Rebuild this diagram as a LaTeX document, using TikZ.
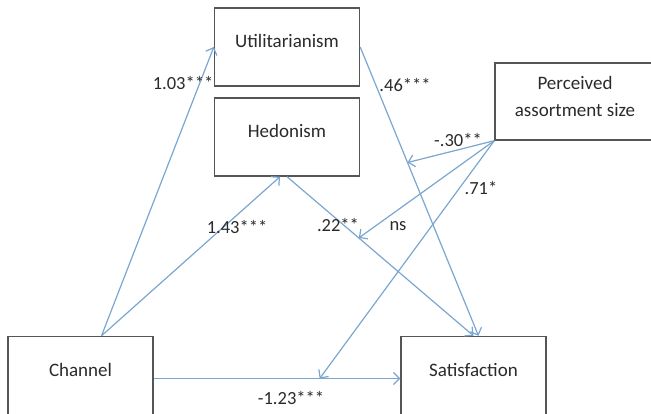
\documentclass[tikz,border=0pt]{standalone}
\usepackage{fontspec}
\setmainfont{Carlito}
\usetikzlibrary{positioning, arrows.meta}

\definecolor{pathblue}{HTML}{7AA6D0}
\definecolor{boxgray}{HTML}{555555}
\definecolor{txtgray}{HTML}{2A2A2A}

\begin{document}
\begin{tikzpicture}[x=1pt, y=-1pt,
    box/.style={draw=boxgray, line width=1.4pt, rectangle, minimum width=145pt, minimum height=78pt, text=txtgray, font=\fontsize{19}{22}\selectfont, text height=10pt, text depth=8pt},
    coef/.style={text=txtgray, font=\fontsize{18.5}{22}\selectfont, inner sep=0pt},
    effect/.style={draw=pathblue, line width=1.2pt, -{Straight Barb[length=6pt, width=12pt]}}]
    \useasboundingbox (0,0) rectangle (651,414);

    % boxes
    \node (util) [box] at (287,47) {Utilitarianism};
    \node (hed) [box, below=10.6pt of util] {Hedonism};
    \node (perc) [box, minimum width=160pt, minimum height=77pt, align=center, font=\fontsize{19}{27}\selectfont, text height=42pt, text depth=12pt] at (575,101.5) {Perceived\\assortment size};
    \node (chan) [box] at (80.5,375.5) {Channel};
    \node (sat) [box] at (473.5,375.5) {Satisfaction};

    % paths
    \draw [effect] ([xshift=21pt]chan.north) -- (util.west);
    \draw [effect] ([xshift=21pt]chan.north) -- ([xshift=-7pt]hed.south);
    \draw [effect] (util.east) -- coordinate[pos=0.40] (ucross) ([xshift=5pt]sat.north);
    \draw [effect] (hed.south) -- coordinate[pos=0.385] (hcross) (sat.north);
    \draw [effect] ([yshift=-3pt]chan.east) -- coordinate[pos=0.673] (ccross) ([yshift=-3pt]sat.west);

    % moderation by assortment size
    \draw [effect] (perc.south west) -- (ucross);
    \draw [effect] (perc.south west) -- (hcross);
    \draw [effect] (perc.south west) -- (ccross);

    % coefficients
    \node (c1) [coef] at (183,83) {1.03***};
    \node (c2) [coef] at (405,85) {.46***};
    \node (c3) [coef] at (458,140) {-.30**};
    \node (c4) [coef] at (481,188) {.71*};
    \node (c5) [coef] at (237,227) {1.43***};
    \node (c6) [coef] at (338,225) {.22**};
    \node (c7) [coef] at (398,226) {ns};
    \node (c8) [coef] at (291,398) {-1.23***};
\end{tikzpicture}
\end{document}
